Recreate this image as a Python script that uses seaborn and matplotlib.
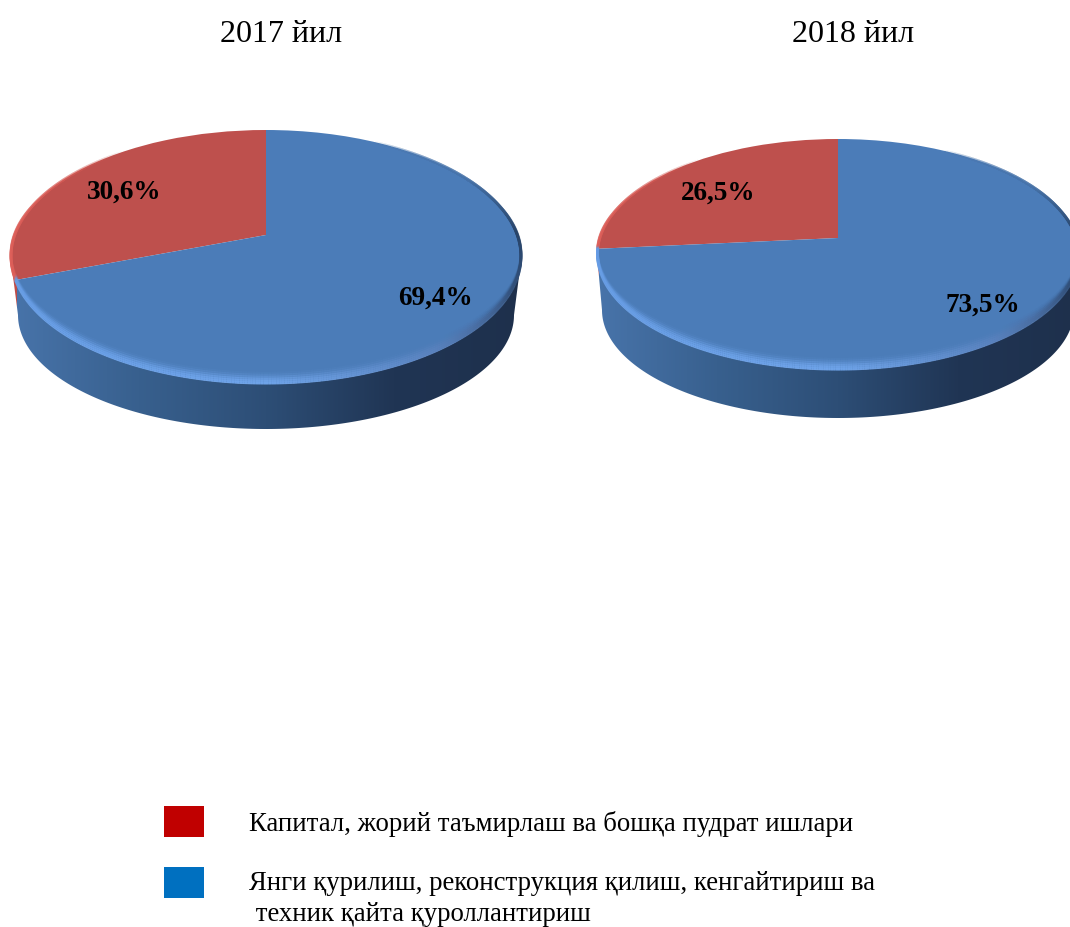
import numpy as np
import matplotlib
matplotlib.use('Agg')
import matplotlib.pyplot as plt
import matplotlib.transforms as mtransforms
from matplotlib.collections import LineCollection
from matplotlib.patches import Polygon, Rectangle
import seaborn as sns

# Chart data
years = ['2017 йил', '2018 йил']
categories = ['Капитал, жорий таъмирлаш ва бошқа пудрат ишлари',
              'Янги қурилиш, реконструкция қилиш, кенгайтириш ва\n техник қайта қуроллантириш']
shares_2017 = [30.6, 69.4]
shares_2018 = [26.5, 73.5]

pie_colors = sns.color_palette(['#BE504D', '#4B7CB8'])
legend_colors = sns.color_palette(['#C00000', '#0070C0'])

sns.set_theme(style='white')
plt.rcParams['font.family'] = ['Liberation Serif', 'DejaVu Serif']


class Perspective(mtransforms.Transform):
    # tilted disc: unit circle -> ellipse with the centre pushed upward
    input_dims = 2
    output_dims = 2

    def __init__(self, cx, cy, up, down, width):
        super().__init__()
        self.cx, self.cy = cx, cy
        self.k = (up - down) / (up + down)
        self.a = up * (1 - self.k)
        self.r = width * np.sqrt(1 - self.k ** 2)

    def transform_non_affine(self, values):
        values = np.asarray(values, dtype=float)
        den = 1 - self.k * values[:, 1]
        return np.column_stack([self.cx + self.r * values[:, 0] / den,
                                self.cy - self.a * values[:, 1] / den])


wall_stops = np.array([0.0, 0.25, 0.5, 0.75, 1.0])
wall_rgb = np.array([[72, 116, 170], [56, 96, 142], [45, 78, 118], [32, 53, 84], [30, 48, 76]]) / 255


def rim_color(theta, red_end):
    th = np.mod(theta, 360)
    pts = [0, 30, 180, 200, 270, 305, 335, 360]
    r = np.interp(th, pts, [40, 70, 100, 104, 112, 90, 50, 40])
    g = np.interp(th, pts, [68, 115, 155, 158, 165, 130, 80, 68])
    b = np.interp(th, pts, [105, 170, 228, 230, 235, 190, 122, 105])
    # top of the disc has no bevel, it fades in towards the sides
    a = np.interp(th, [0, 35, 60, 130, 170, 190, 360], [1, 0.5, 0, 0, 0.6, 1, 1])
    col = np.column_stack([r, g, b, a]) / np.array([255, 255, 255, 1])
    red = (th > 90) & (th < red_end)
    col[red, :3] = np.array([222, 96, 90]) / 255
    return col


def draw_pie(ax, shares, cx, cy, up, down, width, bot_cy, bot_ry, bot_rx):
    persp = Perspective(cx, cy, up, down, width)
    red_end = 90 + shares[0] * 3.6
    left, right = cx - width, cx + width

    # side wall with horizontal shading
    t = np.radians(np.linspace(180, 360, 200))
    top_y = (cy - up + cy + down) / 2
    top_ry = (up + down) / 2
    top_pts = np.column_stack([cx + width * np.cos(t), top_y - top_ry * np.sin(t)])
    bot_pts = np.column_stack([cx + bot_rx * np.cos(t), bot_cy - bot_ry * np.sin(t)])
    outline = np.vstack([top_pts, bot_pts[::-1]])

    xs = np.linspace(0, 1, 400)
    grad = np.column_stack([np.interp(xs, wall_stops, wall_rgb[:, i]) for i in range(3)])
    edge = persp.transform_non_affine(
        np.array([[np.cos(np.radians(red_end)), np.sin(np.radians(red_end))]]))[0, 0]
    grad[(left + xs * (right - left)) < edge + 2] = [0.74, 0.30, 0.29]
    im = ax.imshow(grad[np.newaxis, :, :], extent=(left, right, bot_cy + bot_ry, top_y),
                   aspect='auto', zorder=1, interpolation='nearest')
    im.set_clip_path(Polygon(outline, transform=ax.transData))

    # top face
    wedges, _ = ax.pie(shares, colors=pie_colors, startangle=90, radius=1,
                       wedgeprops={'linewidth': 0})
    for w in wedges:
        w.set_transform(persp + ax.transData)
        w.set_zorder(2)

    # bevel around the edge, pushed up from the lower rim
    th = np.linspace(0, 360, 721)
    for shift, alpha in [(0.5, 0.95), (2.5, 0.85), (4.5, 0.65), (6.5, 0.4), (8.5, 0.2), (10.5, 0.08)]:
        p = persp.transform_non_affine(np.column_stack([0.998 * np.cos(np.radians(th)),
                                                        0.998 * np.sin(np.radians(th))]))
        p[:, 1] -= shift * np.clip(-np.sin(np.radians(th)) + 0.25, 0, 1)
        segs = np.stack([p[:-1], p[1:]], axis=1)
        col = rim_color(th[:-1], red_end)
        col[:, 3] *= alpha
        ax.add_collection(LineCollection(segs, colors=col, linewidths=2.0, zorder=3, capstyle='butt'))


def pct(v):
    return f'{v:.1f}%'.replace('.', ',')


fig = plt.figure(figsize=(10.7, 9.27), dpi=100)
ax = fig.add_axes([0, 0, 1, 1])

draw_pie(ax, shares_2017, 266, 235, 105, 149, 255.5, 315, 114, 248)
draw_pie(ax, shares_2018, 838, 238, 99, 132, 241, 310, 108, 236)

ax.text(281, 34, years[0], fontsize=23, ha='center', va='center', color='black')
ax.text(853, 34, years[1], fontsize=23, ha='center', va='center', color='black')

label_style = dict(fontsize=19.6, fontweight='bold', ha='center', va='center', color='black', zorder=5)
ax.text(124, 192, pct(shares_2017[0]), **label_style)
ax.text(435, 298, pct(shares_2017[1]), **label_style)
ax.text(718, 193, pct(shares_2018[0]), **label_style)
ax.text(983, 305, pct(shares_2018[1]), **label_style)

# legend
ax.add_patch(Rectangle((164, 806), 40, 31, facecolor=legend_colors[0], edgecolor='none'))
ax.add_patch(Rectangle((164, 867), 40, 31, facecolor=legend_colors[1], edgecolor='none'))
ax.text(249, 824, categories[0], fontsize=19.3, ha='left', va='center', color='black')
ax.text(249, 899, categories[1], fontsize=19.3, ha='left', va='center', color='black', linespacing=1.3)

ax.set_aspect('auto')
ax.set_xlim(0, 1070)
ax.set_ylim(927, 0)
ax.axis('off')

plt.savefig('out.png', dpi=100)
